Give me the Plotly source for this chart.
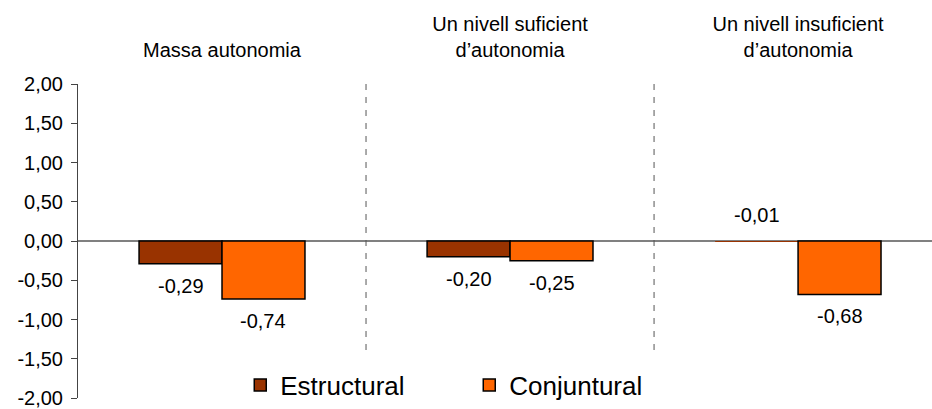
import plotly.graph_objects as go

categories = ["Massa autonomia", "Un nivell suficient<br>d\u2019autonomia", "Un nivell insuficient<br>d\u2019autonomia"]
estructural = [-0.29, -0.20, -0.01]
conjuntural = [-0.74, -0.25, -0.68]
y_ticks = [2.0, 1.5, 1.0, 0.5, 0.0, -0.5, -1.0, -1.5, -2.0]
y_tick_labels = ["2,00", "1,50", "1,00", "0,50", "0,00", "-0,50", "-1,00", "-1,50", "-2,00"]

FONT = "Liberation Sans, Arial, sans-serif"
BAR_W = 0.288
x_idx = list(range(len(categories)))


def fmt(v):
    return f"{v:.2f}".replace(".", ",")


def outline(vals):
    # near-zero bars show no visible outline in the original
    return [0 if abs(v) < 0.05 else 1.5 for v in vals]


fig = go.Figure()
fig.add_trace(go.Bar(
    x=x_idx, y=estructural, name="Estructural", width=BAR_W, offset=-BAR_W,
    marker=dict(color="#993300", line=dict(color="#000000", width=outline(estructural))),
))
fig.add_trace(go.Bar(
    x=x_idx, y=conjuntural, name="Conjuntural", width=BAR_W, offset=0,
    marker=dict(color="#FF6600", line=dict(color="#000000", width=outline(conjuntural))),
))

# value labels under each bar (tiny values go above the axis)
for series, shift in ((estructural, -BAR_W / 2), (conjuntural, BAR_W / 2)):
    for i, v in enumerate(series):
        fig.add_annotation(
            x=i + shift, y=v, xref="x", yref="y", text=fmt(v), showarrow=False,
            yshift=27 if abs(v) < 0.05 else -22, yanchor="middle",
            font=dict(family=FONT, size=20, color="#000000"),
        )

# dashed separators between groups
for b in (0.5, 1.5):
    fig.add_shape(type="line", xref="x", yref="y", x0=b, x1=b, y0=2.0, y1=-1.4,
                  line=dict(color="#555555", width=1, dash="6px,7px"))

fig.update_layout(
    width=932, height=409,
    paper_bgcolor="white", plot_bgcolor="white",
    margin=dict(l=78, r=0, t=84, b=11),
    barmode="overlay",
    font=dict(family=FONT, size=20, color="#000000"),
    showlegend=True,
    legend=dict(
        orientation="h", x=0.19, xanchor="left", y=0.041, yanchor="middle",
        font=dict(family=FONT, size=26), entrywidth=184, entrywidthmode="pixels",
        bgcolor="rgba(0,0,0,0)",
    ),
    xaxis=dict(
        range=[-0.5, 2.465], side="top", tickmode="array", tickvals=x_idx, ticktext=categories,
        showgrid=False, zeroline=False, showline=False, ticks="", ticklabelstandoff=22,
    ),
    yaxis=dict(
        range=[-2.0, 2.0], tickmode="array", tickvals=y_ticks, ticktext=y_tick_labels,
        showgrid=False, showline=True, linecolor="#444444", linewidth=1,
        ticks="outside", ticklen=6, tickcolor="#444444", ticklabelstandoff=4,
        zeroline=True, zerolinecolor="#808080", zerolinewidth=1.5,
    ),
)

fig.write_html("out.html", config={"displayModeBar": False},
               post_script="document.body.style.margin='0';")
